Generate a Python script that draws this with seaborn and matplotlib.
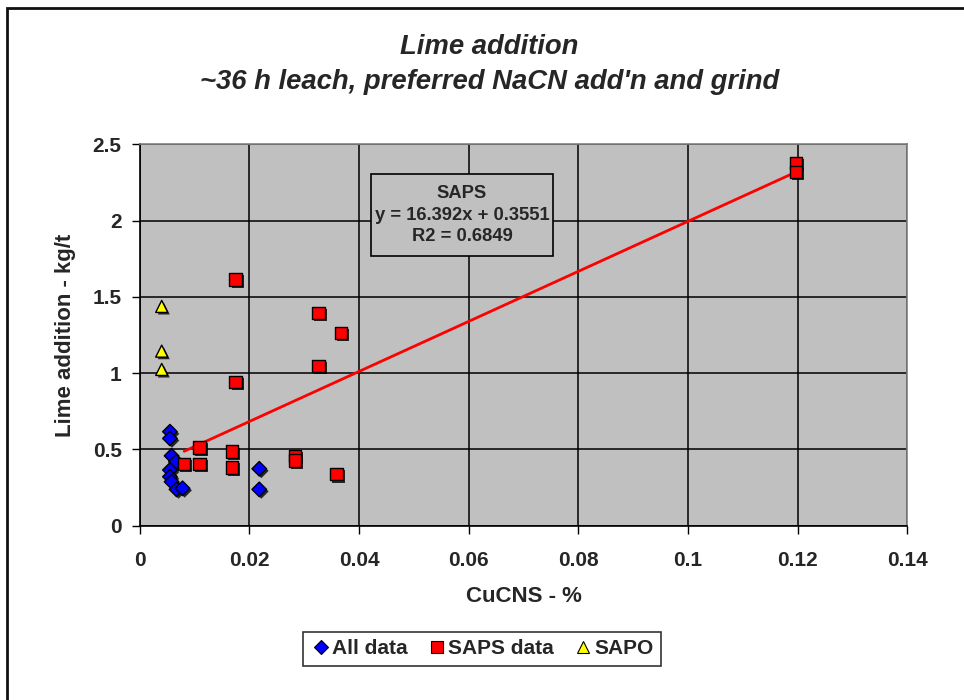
import numpy as np
import pandas as pd
import matplotlib
matplotlib.use("Agg")
import matplotlib.pyplot as plt
import matplotlib.patheffects as pe
from matplotlib.patches import Rectangle
from matplotlib.lines import Line2D
import seaborn as sns

# Measured data
all_x = [0.0055, 0.0055, 0.0058, 0.0066, 0.0055, 0.0055, 0.0058, 0.0067, 0.0078, 0.0218, 0.0218]
all_y = [0.616, 0.572, 0.458, 0.419, 0.365, 0.321, 0.288, 0.238, 0.245, 0.373, 0.238]

saps_x = [0.0175, 0.0326, 0.0367, 0.0326, 0.0175, 0.0109, 0.0081, 0.0109, 0.0168,
          0.0168, 0.0283, 0.0283, 0.0359, 0.1197, 0.1197]
saps_y = [1.614, 1.395, 1.264, 1.046, 0.941, 0.513, 0.404, 0.404, 0.485,
          0.382, 0.458, 0.426, 0.337, 2.377, 2.318]

sapo_x = [0.004, 0.004, 0.004]
sapo_y = [1.437, 1.144, 1.024]

series_names = ["All data", "SAPS data", "SAPO"]
slope, intercept, r2 = 16.392, 0.3551, 0.6849

x_ticks = [0, 0.02, 0.04, 0.06, 0.08, 0.1, 0.12, 0.14]
x_tick_labels = ["0", "0.02", "0.04", "0.06", "0.08", "0.1", "0.12", "0.14"]
y_ticks = [0, 0.5, 1, 1.5, 2, 2.5]
y_tick_labels = ["0", "0.5", "1", "1.5", "2", "2.5"]

df = pd.DataFrame({
    "x": all_x + saps_x + sapo_x,
    "y": all_y + saps_y + sapo_y,
    "series": [series_names[0]] * len(all_x) + [series_names[1]] * len(saps_x)
              + [series_names[2]] * len(sapo_x),
})

sns.set_theme(style="white")
plt.rcParams["font.family"] = ["Liberation Sans", "DejaVu Sans"]
plt.rcParams["font.weight"] = "bold"

fig = plt.figure(figsize=(9.64, 7.0), dpi=100)
ax = fig.add_axes([0.145, 0.249, 0.796, 0.545])
ax.set_facecolor("#C0C0C0")

colors = {"All data": "#0000FF", "SAPS data": "#FF0000", "SAPO": "#FFFF00"}
markers = {"All data": "D", "SAPS data": "s", "SAPO": "^"}
sizes = {"All data": 55, "SAPS data": 80, "SAPO": 75}

shadow = [pe.SimplePatchShadow(offset=(1.5, -1.5), shadow_rgbFace="black", alpha=0.8),
          pe.Normal()]

for name in series_names:
    sub = df[df["series"] == name]
    sc = sns.scatterplot(data=sub, x="x", y="y", ax=ax, color=colors[name],
                         marker=markers[name], s=sizes[name], edgecolor="black",
                         linewidth=1.0, zorder=4, legend=False)
    sc.collections[-1].set_path_effects(shadow)

# SAPS linear trend line
fit_x = np.array([min(saps_x), max(saps_x)])
ax.plot(fit_x, slope * fit_x + intercept, color="#FF0000", lw=2.0, zorder=3)

ax.set_xlim(0, 0.14)
ax.set_ylim(0, 2.5)
ax.set_xticks(x_ticks)
ax.set_xticklabels(x_tick_labels)
ax.set_yticks(y_ticks)
ax.set_yticklabels(y_tick_labels)
ax.grid(True, color="black", lw=1.1)
ax.set_axisbelow(True)
ax.tick_params(axis="both", which="major", direction="out", length=6, width=1,
               color="black", labelsize=15, pad=7, bottom=True, left=True)
for lab in ax.get_xticklabels() + ax.get_yticklabels():
    lab.set_fontweight("bold")
ax.tick_params(axis="x", pad=12)

for side in ["left", "bottom"]:
    ax.spines[side].set_color("black")
    ax.spines[side].set_linewidth(1.2)
for side in ["top", "right"]:
    ax.spines[side].set_color("#808080")
    ax.spines[side].set_linewidth(1.2)

ax.set_xlabel("CuCNS - %", fontsize=16, fontweight="bold", labelpad=12)
ax.set_ylabel("Lime addition - kg/t", fontsize=16, fontweight="bold", labelpad=12)

fig.text(0.5075, 1 - 47 / 700, "Lime addition", ha="center", va="center",
         fontsize=19.8, fontweight="bold", style="italic")
fig.text(0.5075, 1 - 82 / 700, "~36 h leach, preferred NaCN add'n and grind",
         ha="center", va="center", fontsize=19.8, fontweight="bold", style="italic")

# trend-line annotation box
ax.add_patch(Rectangle((0.0422, 1.766), 0.0332, 0.537, facecolor="#C0C0C0",
                       edgecolor="black", lw=1.2, zorder=5))
ax.text(0.0588, 2.035, f"SAPS\ny = {slope}x + {intercept}\nR2 = {r2}",
        ha="center", va="center", fontsize=13.2, fontweight="bold", linespacing=1.32,
        zorder=6)

handles = [Line2D([], [], ls="none", marker=markers[n], markerfacecolor=colors[n],
                  markeredgecolor="black", markersize=8 if n != "All data" else 7,
                  markeredgewidth=0.8)
           for n in series_names]
leg = fig.legend(handles, series_names, loc="center", ncol=3,
                 bbox_to_anchor=(482 / 964, 1 - 649 / 700), frameon=True,
                 fancybox=False, edgecolor="black", facecolor="white",
                 prop={"size": 15, "weight": "bold"}, handletextpad=0.05,
                 columnspacing=0.9, handlelength=1.0, borderpad=0.35)
leg.get_frame().set_linewidth(1.2)

# outer chart border
fig.patches.append(Rectangle((7 / 964, -0.05), 1.1, 1 - 8 / 700 + 0.05,
                             transform=fig.transFigure, fill=False,
                             edgecolor="#111111", lw=2.0))

fig.savefig("out.png", dpi=100, facecolor="white")
